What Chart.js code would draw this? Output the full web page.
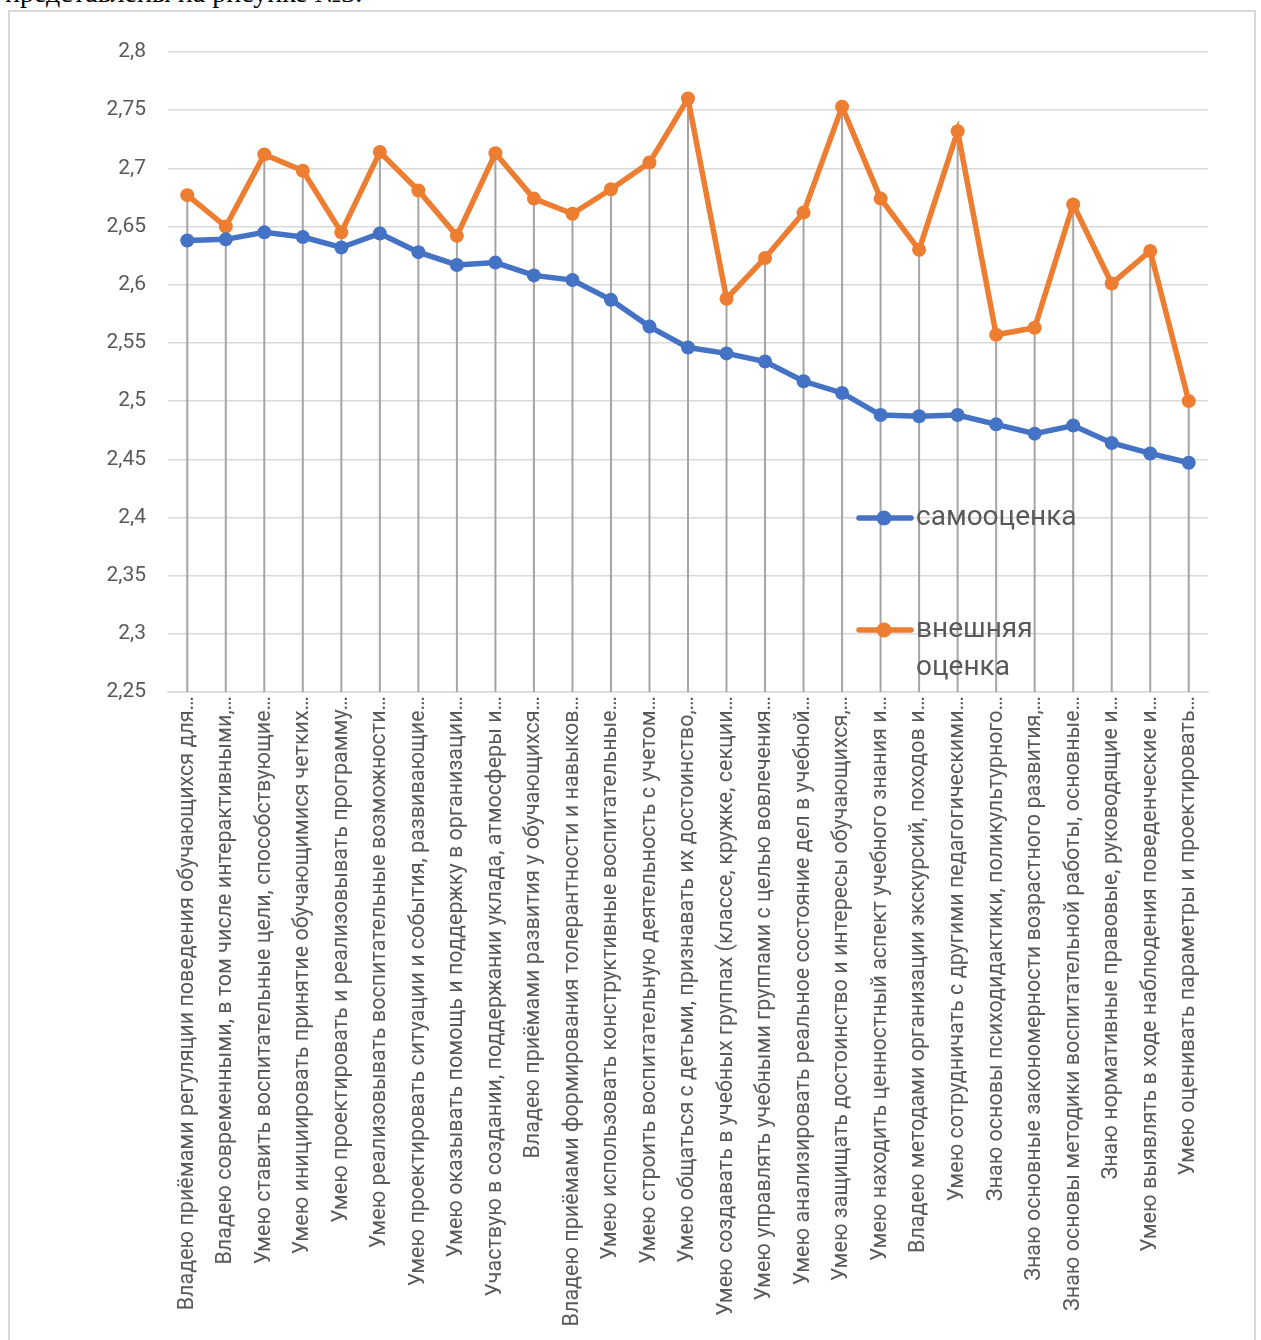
<!DOCTYPE html>
<html>
<head>
<meta charset="utf-8">
<script src="https://cdn.jsdelivr.net/npm/chart.js@4.4.1/dist/chart.umd.min.js"></script>
<style>
  html, body { margin: 0; padding: 0; background: #ffffff; overflow: hidden; }
  #wrap { position: relative; width: 1261px; height: 1340px; }
  #frame { position: absolute; left: 8px; top: 10px; width: 1248px; height: 1340px; border: 2px solid #d9d9d9; box-sizing: border-box; }
  #caption { position: absolute; left: 5px; top: -21px; font: 28px "Liberation Serif", serif; line-height: 28px; color: #000; white-space: nowrap; }
  #chart { position: absolute; left: 0; top: 0; }
</style>
</head>
<body>
<div id="wrap">
  <div id="caption">представлены на рисунке №3.</div>
  <div id="frame"></div>
  <canvas id="chart" width="1261" height="1340"></canvas>
</div>
<script>
const categories = [
  "Владею приёмами регуляции поведения обучающихся для…",
  "Владею современными, в том числе интерактивными,…",
  "Умею ставить воспитательные цели, способствующие…",
  "Умею инициировать принятие обучающимися четких…",
  "Умею проектировать и реализовывать программу…",
  "Умею реализовывать воспитательные возможности…",
  "Умею проектировать ситуации и события, развивающие…",
  "Умею оказывать помощь и поддержку в организации…",
  "Участвую в создании, поддержании уклада, атмосферы и…",
  "Владею приёмами развития у обучающихся…",
  "Владею приёмами формирования толерантности и навыков…",
  "Умею использовать конструктивные воспитательные…",
  "Умею строить воспитательную деятельность с учетом…",
  "Умею общаться с детьми, признавать их достоинство,…",
  "Умею создавать в учебных группах (классе, кружке, секции…",
  "Умею управлять учебными группами с целью вовлечения…",
  "Умею анализировать реальное состояние дел в учебной…",
  "Умею защищать достоинство и интересы обучающихся,…",
  "Умею находить ценностный аспект учебного знания и…",
  "Владею методами организации экскурсий, походов и…",
  "Умею сотрудничать с другими педагогическими…",
  "Знаю основы психодидактики, поликультурного…",
  "Знаю основные закономерности возрастного развития,…",
  "Знаю основы методики воспитательной работы, основные…",
  "Знаю нормативные правовые, руководящие и…",
  "Умею выявлять в ходе наблюдения поведенческие и…",
  "Умею оценивать параметры и проектировать…"
];

const selfScores = [
  2.638, 2.639, 2.645, 2.641, 2.632, 2.644, 2.628, 2.617, 2.619,
  2.608, 2.604, 2.587, 2.564, 2.546, 2.541, 2.534, 2.517, 2.507,
  2.488, 2.487, 2.488, 2.480, 2.472, 2.479, 2.464, 2.455, 2.447
];

const externalScores = [
  2.677, 2.650, 2.712, 2.698, 2.645, 2.714, 2.681, 2.642, 2.713,
  2.674, 2.661, 2.682, 2.705, 2.760, 2.588, 2.623, 2.662, 2.753,
  2.674, 2.630, 2.732, 2.557, 2.563, 2.669, 2.601, 2.629, 2.500
];

const seriesNames = ["самооценка", "внешняя оценка"];
const seriesColors = ["#4472C4", "#ED7D31"];

const yMin = 2.25, yMax = 2.8, yStep = 0.05;

const textColor = "#595959";
const gridColor = "#d9d9d9";

const dropLines = {
  id: "dropLines",
  beforeDatasetsDraw(chart) {
    const { ctx, chartArea, scales } = chart;
    ctx.save();
    ctx.strokeStyle = "#a5a5a5";
    ctx.lineWidth = 2;
    categories.forEach((c, i) => {
      const x = scales.x.getPixelForValue(i);
      const top = Math.min(
        scales.y.getPixelForValue(selfScores[i]),
        scales.y.getPixelForValue(externalScores[i])
      );
      ctx.beginPath();
      ctx.moveTo(x, top);
      ctx.lineTo(x, chartArea.bottom);
      ctx.stroke();
    });
    ctx.restore();
  }
};

const customLegend = {
  id: "customLegend",
  afterDatasetsDraw(chart) {
    const { ctx } = chart;
    const entries = [
      { lines: ["самооценка"], y: 518 },
      { lines: ["внешняя", "оценка"], y: 630 }
    ];
    ctx.save();
    entries.forEach((e, k) => {
      const color = seriesColors[k];
      ctx.strokeStyle = color;
      ctx.lineWidth = 5.5;
      ctx.lineCap = "round";
      ctx.beginPath();
      ctx.moveTo(859, e.y);
      ctx.lineTo(911, e.y);
      ctx.stroke();
      ctx.fillStyle = color;
      ctx.beginPath();
      ctx.arc(884, e.y, 7.5, 0, Math.PI * 2);
      ctx.fill();
      ctx.fillStyle = textColor;
      ctx.font = "28px Roboto";
      ctx.textBaseline = "middle";
      ctx.textAlign = "left";
      e.lines.forEach((t, j) => ctx.fillText(t, 916, e.y + j * 38));
    });
    ctx.restore();
  }
};

new Chart(document.getElementById("chart"), {
  type: "line",
  data: {
    labels: categories,
    datasets: [
      {
        label: seriesNames[0],
        data: selfScores,
        borderColor: seriesColors[0],
        backgroundColor: seriesColors[0],
        borderWidth: 5.5,
        pointRadius: 7,
        pointHoverRadius: 7,
        pointBorderWidth: 0,
        tension: 0
      },
      {
        label: seriesNames[1],
        data: externalScores,
        borderColor: seriesColors[1],
        backgroundColor: seriesColors[1],
        borderWidth: 5.5,
        pointRadius: 7,
        pointHoverRadius: 7,
        pointBorderWidth: 0,
        tension: 0
      }
    ]
  },
  options: {
    responsive: false,
    animation: false,
    events: [],
    layout: { padding: { top: 52, right: 53, bottom: 0, left: 0 } },
    plugins: {
      legend: { display: false },
      tooltip: { enabled: false },
      title: { display: false }
    },
    scales: {
      x: {
        type: "category",
        offset: true,
        grid: { display: false, drawTicks: false },
        border: { display: true, color: gridColor, width: 1.5 },
        ticks: {
          autoSkip: false,
          minRotation: 90,
          maxRotation: 90,
          padding: 4,
          color: textColor,
          font: { family: "Roboto", size: 21.5 }
        },
        afterFit(scale) { scale.height = 1340 - 692; }
      },
      y: {
        min: yMin,
        max: yMax,
        grid: { color: gridColor, lineWidth: 1.5, drawTicks: false },
        border: { display: false },
        ticks: {
          stepSize: yStep,
          padding: 22,
          color: textColor,
          font: { family: "Roboto", size: 21 },
          callback: (v) => String(Math.round(v * 100) / 100).replace(".", ",")
        },
        afterFit(scale) { scale.width = 168; }
      }
    }
  },
  plugins: [dropLines, customLegend]
});
</script>
</body>
</html>
